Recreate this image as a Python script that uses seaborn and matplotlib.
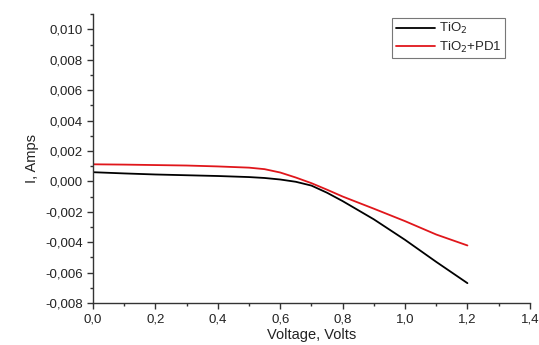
import matplotlib
matplotlib.use("Agg")
import matplotlib.pyplot as plt
import seaborn as sns
import pandas as pd
from matplotlib.ticker import MultipleLocator, FuncFormatter

sns.set_theme(style="ticks")
plt.rcParams['font.family'] = ['Liberation Sans', 'DejaVu Sans']

voltage = [0.0, 0.1, 0.2, 0.3, 0.4, 0.5, 0.55, 0.6, 0.65, 0.7, 0.75, 0.8, 0.9, 1.0, 1.1, 1.2]
i_tio2 = [0.00060, 0.00052, 0.00045, 0.00040, 0.00035, 0.00028, 0.00022, 0.00012, -0.00003, -0.00028,
          -0.00075, -0.00130, -0.00250, -0.00385, -0.00530, -0.00670]
i_tio2_pd1 = [0.00112, 0.00110, 0.00107, 0.00104, 0.00098, 0.00090, 0.00080, 0.00058, 0.00025, -0.00012,
              -0.00055, -0.00100, -0.00180, -0.00262, -0.00350, -0.00422]
labels = ["TiO$_2$", "TiO$_2$+PD1"]

df = pd.concat([
    pd.DataFrame({"V": voltage, "I": i_tio2, "s": labels[0]}),
    pd.DataFrame({"V": voltage, "I": i_tio2_pd1, "s": labels[1]}),
])

fig = plt.figure(figsize=(5.39, 3.45), dpi=100)
ax = fig.add_axes([0.1725, 0.122, 0.8105, 0.837])
sns.lineplot(data=df, x="V", y="I", hue="s", palette=["black", "#e0161b"],
             linewidth=1.3, ax=ax, legend=True)

ax.set_xlim(0, 1.4)
ax.set_ylim(-0.008, 0.011)
ax.xaxis.set_major_locator(MultipleLocator(0.2))
ax.xaxis.set_minor_locator(MultipleLocator(0.1))
ax.yaxis.set_major_locator(MultipleLocator(0.002))
ax.yaxis.set_minor_locator(MultipleLocator(0.001))
ax.xaxis.set_major_formatter(FuncFormatter(lambda v, p: f"{v:.1f}".replace(".", ",")))
ax.yaxis.set_major_formatter(FuncFormatter(lambda v, p: (f"{v:.3f}".replace(".", ",") if abs(v) > 1e-9 else "0,000")))
ax.tick_params(axis="both", which="major", labelsize=9.5, length=4, width=1, direction="out", color="#333333", labelcolor="#222222")
ax.tick_params(axis="both", which="minor", length=2.5, width=1, direction="out", color="#333333")
for s in ["top", "right"]:
    ax.spines[s].set_visible(False)
for s in ["left", "bottom"]:
    ax.spines[s].set_color("#333333")
    ax.spines[s].set_linewidth(1.0)

ax.set_xlabel("Voltage, Volts", fontsize=10.5, color="#222222", labelpad=2)
ax.set_ylabel("I, Amps", fontsize=10.5, color="#222222", labelpad=4)

leg = ax.legend(loc="upper left", bbox_to_anchor=(0.67, 1.01), fontsize=9.5, frameon=True,
                fancybox=False, edgecolor="#555555", handlelength=3.0, borderpad=0.25,
                labelspacing=0.25, handletextpad=0.3)
leg.get_frame().set_linewidth(0.8)

fig.savefig("out.png", dpi=100)
